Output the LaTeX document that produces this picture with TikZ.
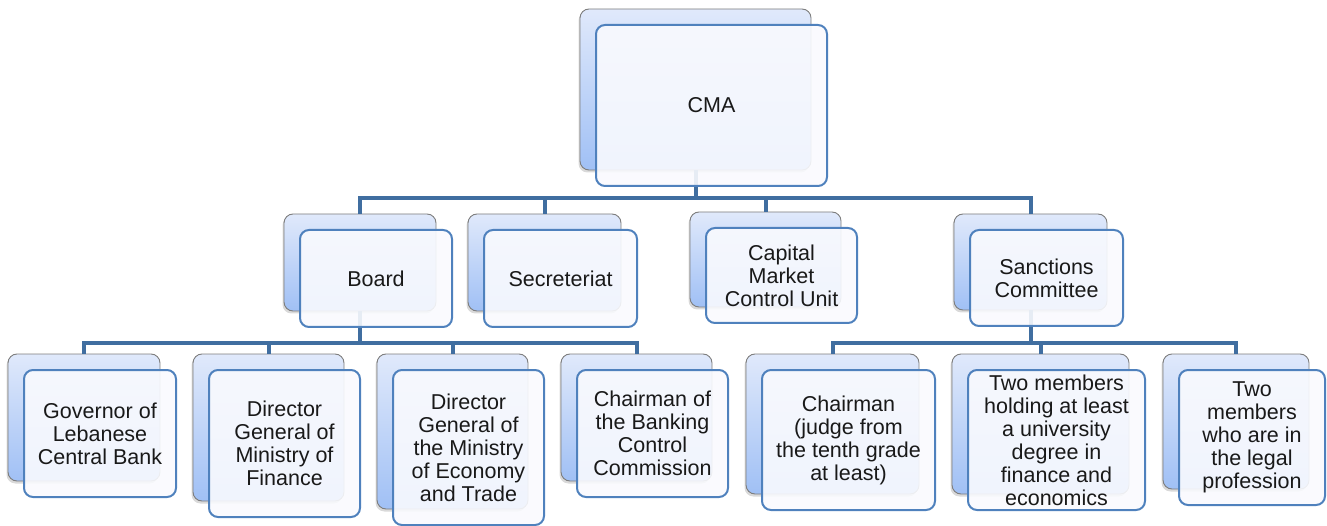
\documentclass[tikz,border=0pt]{standalone}
\usepackage{fontspec}
\setmainfont{Liberation Sans}
\usetikzlibrary{shadows}

\definecolor{linkblue}{RGB}{64,110,160}
\definecolor{frameblue}{RGB}{79,129,189}
\definecolor{backtop}{RGB}{224,233,251}
\definecolor{backbot}{RGB}{160,192,245}
\definecolor{backedge}{RGB}{125,125,125}
\definecolor{frontfill}{RGB}{249,250,254}
\definecolor{inktext}{RGB}{25,25,25}

\pgfdeclarelayer{back}
\pgfdeclarelayer{links}
\pgfsetlayers{back,links,main}

\tikzset{
  backbox/.style={rectangle, rounded corners=9pt, draw=backedge, line width=0.9pt,
    top color=backtop, bottom color=backbot, inner sep=0pt,
    drop shadow={shadow xshift=-1.5pt, shadow yshift=-2.5pt, opacity=0.3}},
  frontbox/.style={rectangle, rounded corners=9pt, draw=frameblue, line width=2pt,
    fill=frontfill, fill opacity=0.9, text opacity=1, inner sep=0pt,
    align=center, text=inktext, font=\fontsize{21.5}{23}\selectfont},
  link/.style={draw=linkblue, line width=4pt},
}

% #1 name, #2/#3 centre of the front card, #4 width, #5 height, #6 label
\newcommand\orgunit[6]{%
  \begin{pgfonlayer}{back}
    \node[backbox, minimum width=#4pt, minimum height=#5pt] (#1-b) at (#2-16,#3-16) {};
  \end{pgfonlayer}
  \node[frontbox, minimum width=#4pt, minimum height=#5pt] (#1) at (#2,#3) {#6};
}

\begin{document}
\begin{tikzpicture}[x=1pt,y=-1pt]
  \useasboundingbox (0,0) rectangle (1327,526);

  % top
  \orgunit{cma}{711.5}{105.5}{231}{161}{CMA}

  % second level
  \orgunit{board}{376}{278.5}{152}{97}{Board}
  \orgunit{secr}{560.5}{278.5}{153}{97}{Secreteriat}
  \orgunit{cmcu}{781.5}{275.5}{151}{95}{Capital\\Market\\Control Unit}
  \orgunit{sanc}{1046.5}{278}{153}{96}{Sanctions\\Committee}

  % board members
  \orgunit{gov}{100}{433.5}{152}{127}{Governor of\\Lebanese\\Central Bank}
  \orgunit{dgfin}{284.5}{443.5}{151}{147}{Director\\General of\\Ministry of\\Finance}
  \orgunit{dgeco}{468.5}{447.5}{151}{155}{Director\\General of\\the Ministry\\of Economy\\and Trade}
  \orgunit{bcc}{652.5}{433.5}{151}{127}{Chairman of\\the Banking\\Control\\Commission}

  % sanctions committee members
  \orgunit{chair}{848.5}{440}{173}{140}{Chairman\\(judge from\\the tenth grade\\at least)}
  \orgunit{univ}{1056.5}{440}{177}{140}{Two members\\holding at least\\a university\\degree in\\finance and\\economics}
  \orgunit{legal}{1252}{437.5}{146}{135}{Two\\members\\who are in\\the legal\\profession}

  % connectors
  \begin{pgfonlayer}{links}
    \coordinate (busA) at (0,198);
    \coordinate (busB) at (0,343);
    \foreach \c in {board,secr,cmcu,sanc}
      \draw[link] (cma-b.south) -- (cma-b.south |- busA) -| (\c-b.north);
    \foreach \c in {gov,dgfin,dgeco,bcc}
      \draw[link] (board-b.south) -- (board-b.south |- busB) -| (\c-b.north);
    \foreach \c in {chair,univ,legal}
      \draw[link] (sanc-b.south) -- (sanc-b.south |- busB) -| (\c-b.north);
  \end{pgfonlayer}
\end{tikzpicture}
\end{document}
